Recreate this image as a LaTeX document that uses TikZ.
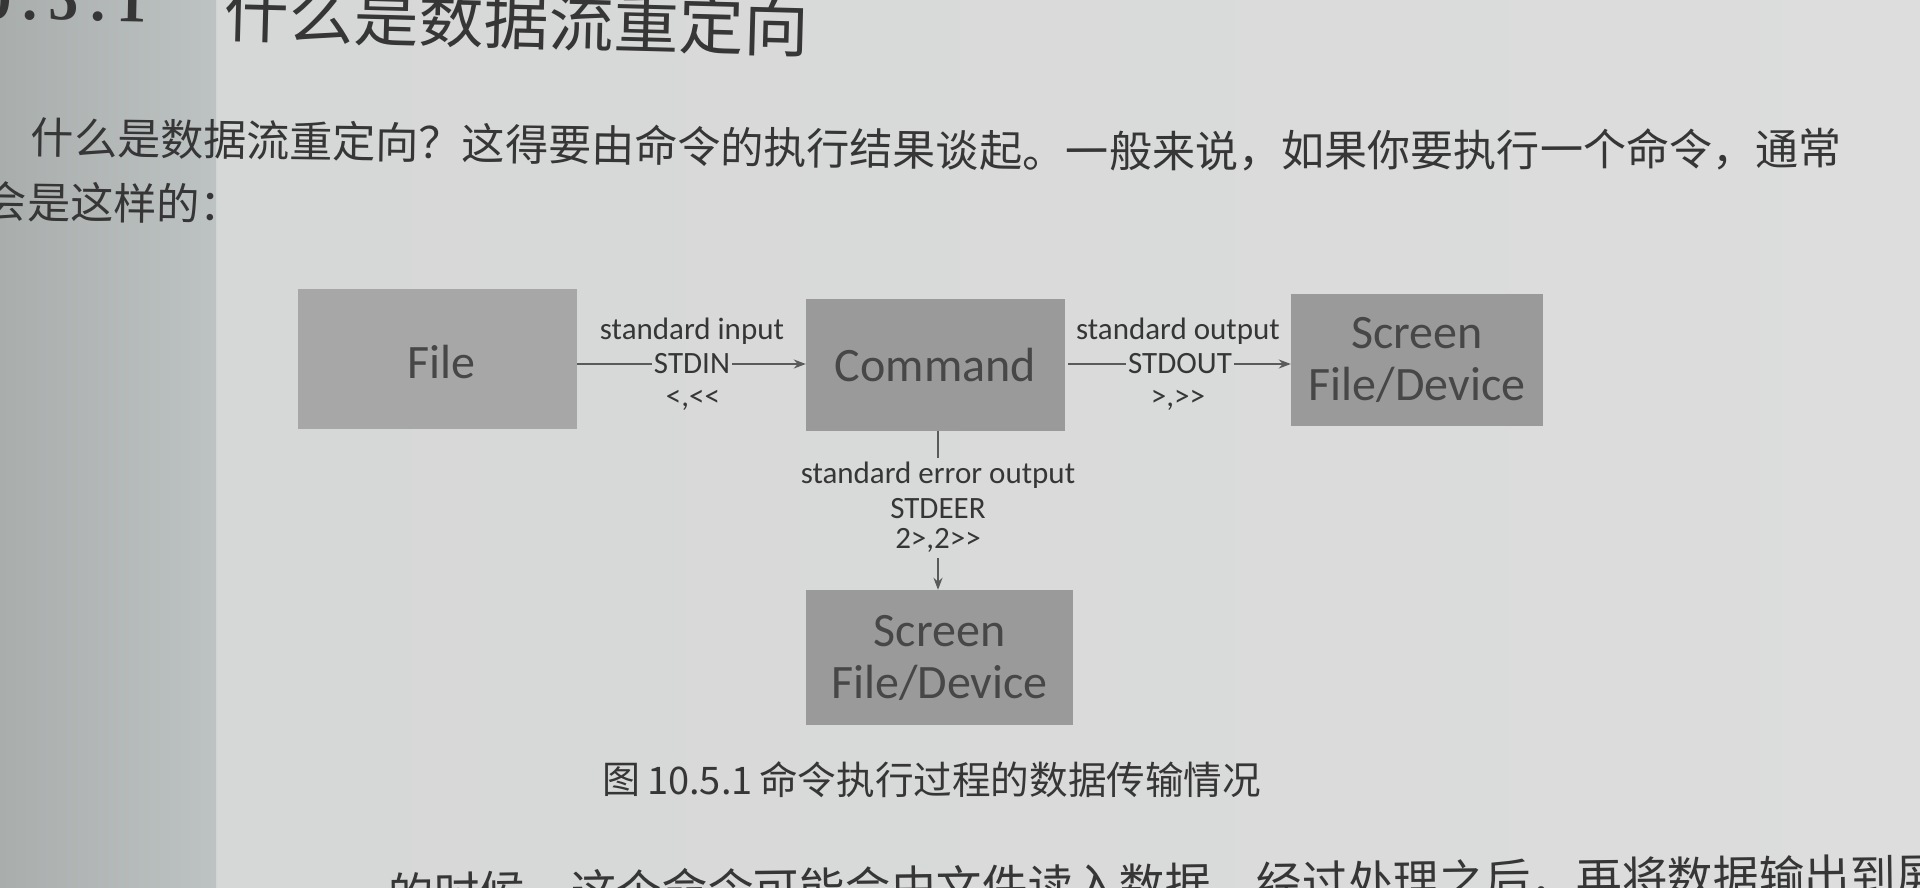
\documentclass[tikz,border=0pt]{standalone}
\usepackage{fontspec}
\setmainfont{Carlito}
\newfontfamily\cjk{Noto Sans CJK SC}
\newfontfamily\numfont[LetterSpace=19]{Liberation Serif}
\usetikzlibrary{arrows.meta}
\definecolor{page}{HTML}{D5D7D6}
\definecolor{pageR}{HTML}{DCDDDC}
\definecolor{bandL}{HTML}{A9AEAD}
\definecolor{bandR}{HTML}{BDC3C2}
\definecolor{boxA}{HTML}{A7A7A7}
\definecolor{boxB}{HTML}{9A9A9A}
\definecolor{ink}{HTML}{363636}
\definecolor{boxink}{HTML}{474747}
\definecolor{lineink}{HTML}{5A5A5A}
\tikzset{
  pbox/.style={fill=boxB, draw=none, inner sep=0pt, align=center, text=boxink,
    font=\fontsize{48}{52}\selectfont},
  lbl/.style={inner sep=0pt, text=ink, font=\fontsize{31}{34}\selectfont},
  conn/.style={draw=lineink, line width=2pt},
  arr/.style={conn, -{Stealth[length=12pt,width=9pt]}},
  cjktext/.style={inner sep=0pt, anchor=west, text=ink},
  bodyfont/.style={font=\cjk\fontsize{43.1}{50}\selectfont},
}
\begin{document}
\begin{tikzpicture}[x=1pt,y=-1pt]
\useasboundingbox (0,0) rectangle (1920,887);
% page background
\shade[left color=page, right color=pageR] (0,0) rectangle (1920,887);
\shade[left color=bandL, right color=bandR] (0,0) rectangle (216,887);

% heading
\node[inner sep=0pt, anchor=base east, text=ink, rotate=-1.2] (hnum) at (147,22)
  {\numfont\bfseries\fontsize{60}{66}\selectfont 10.5.1};
\node[cjktext, rotate=-1.5] (head) at (224,12)
  {\cjk\fontsize{65}{70}\selectfont 什么是数据流重定向};

% paragraph
\node[cjktext, bodyfont, rotate=-0.8] (p1a) at (31,137)
  {什么是数据流重定向？这得要由命令的执行结果谈起。};
\node[cjktext, bodyfont, rotate=0.2] (p1b) at (p1a.east)
  {一般来说，如果你要执行一个命令，通常};
\node[cjktext, bodyfont, rotate=-0.8] (p2) at (-16,201)
  {会是这样的：};

% boxes
\node[pbox, fill=boxA, minimum width=279pt, minimum height=140pt] (file) at (437.5,359) {};
\node[text=boxink, font=\fontsize{48}{52}\selectfont, inner sep=0pt] (filet) at (441,362) {File};
\node[pbox, minimum width=259pt, minimum height=132pt] (cmd) at (935.5,365) {Command};
\node[pbox, minimum width=252pt, minimum height=132pt] (scr1) at (1417,360) {Screen\\File/Device};
\node[pbox, minimum width=267pt, minimum height=135pt] (scr2) at (939.5,657.5) {Screen\\File/Device};

% stdin labels
\node[lbl] (si1) at (692,331) {standard input};
\node[lbl] (si2) at (692,364) {STDIN};
\node[lbl] (si3) at (693,400) {<,<{}<};
\draw[conn] (file.east |- si2) -- ([xshift=-2pt]si2.west);
\draw[arr] ([xshift=2pt]si2.east) -- (si2 -| cmd.west);

% stdout labels
\node[lbl] (so1) at (1178,331) {standard output};
\node[lbl] (so2) at (1180,364) {STDOUT};
\node[lbl] (so3) at (1178,400) {>,>{}>};
\draw[conn] ([xshift=3pt]cmd.east |- so2) -- ([xshift=-2pt]so2.west);
\draw[arr] ([xshift=2pt]so2.east) -- (so2 -| scr1.west);

% stderr labels
\node[lbl] (se1) at (938,475) {standard error output};
\node[lbl] (se2) at (938,509) {STDEER};
\node[lbl] (se3) at (938,540) {2>,2>{}>};
\coordinate (errtop) at ([yshift=-27pt]cmd.south);
\draw[conn] ([xshift=2.5pt]cmd.south) -- ([xshift=2.5pt]errtop);
\draw[arr] ([yshift=-6pt]se3.south) -- (se3.south |- scr2.north);

% caption
\node[cjktext] (c1) at (602,780) {\cjk\fontsize{38}{44}\selectfont 图};
\node[cjktext] (c2) at (647,781) {\cjk\fontsize{38}{44}\selectfont 10.5.1};
\node[cjktext] (c3) at (759,780) {\cjk\fontsize{38.6}{44}\selectfont 命令执行过程的数据传输情况};

% next paragraph (cut off at the bottom edge)
\node[cjktext, rotate=0.7] (p3) at (388,894)
  {\cjk\fontsize{45.7}{50}\selectfont 的时候，这个命令可能会由文件读入数据，经过处理之后，再将数据输出到屏幕上。};
\end{tikzpicture}
\end{document}
